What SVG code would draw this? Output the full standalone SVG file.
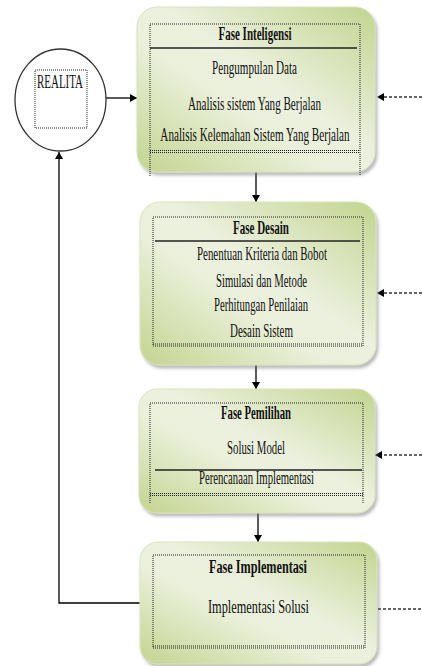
<svg xmlns="http://www.w3.org/2000/svg" width="422" height="666" viewBox="0 0 422 666">
<style>
.box{stroke:#d9e3bf;stroke-width:1;filter:url(#sh)}
.dot{fill:none;stroke:#222;stroke-width:1;stroke-dasharray:1 1}
.hl{stroke:#222;stroke-width:1.6}
.t{font-family:"Liberation Serif","Times New Roman",serif;font-size:18px;fill:#111;text-anchor:middle}
.b{font-weight:bold}
.c{fill:none;stroke:#000;stroke-width:1.3}
.d{fill:none;stroke:#333;stroke-width:1.3;stroke-dasharray:3 2}
</style>
<defs>
<linearGradient id="g" x1="1" y1="0" x2="0" y2="1">
<stop offset="0" stop-color="#c2d48f"/>
<stop offset="0.45" stop-color="#ecf1df"/>
<stop offset="0.6" stop-color="#eaf0da"/>
<stop offset="1" stop-color="#c2d48f"/>
</linearGradient>
<filter id="sh" x="-10%" y="-10%" width="125%" height="125%">
<feDropShadow dx="2" dy="3" stdDeviation="1.5" flood-color="#777" flood-opacity="0.5"/>
</filter>
<marker id="a" markerWidth="8" markerHeight="8" refX="7" refY="4" orient="auto" markerUnits="userSpaceOnUse">
<path d="M0,0 L7,4 L0,8 Z" fill="#000"/>
</marker>
</defs>

<g id="connectors">
<line class="c" x1="106" y1="98" x2="137" y2="98" marker-end="url(#a)"/>
<line class="d" x1="422" y1="97" x2="377" y2="97" marker-end="url(#a)"/>
<line class="c" x1="256" y1="172" x2="256" y2="202" marker-end="url(#a)"/>
<line class="d" x1="422" y1="293" x2="377" y2="293" marker-end="url(#a)"/>
<line class="c" x1="256" y1="365" x2="256" y2="389" marker-end="url(#a)"/>
<line class="d" x1="422" y1="455" x2="375" y2="455" marker-end="url(#a)"/>
<line class="c" x1="258" y1="513" x2="258" y2="542" marker-end="url(#a)"/>
<line class="d" x1="378" y1="609" x2="422" y2="609"/>
<polyline class="c" points="141,603 59,603 59,152" marker-end="url(#a)"/>
</g>

<g id="realita">
<ellipse cx="60.5" cy="100" rx="45.5" ry="51" fill="#fff" stroke="#333" stroke-width="1.3"/>
<rect class="dot" x="35" y="70" width="52" height="58"/>
<text class="t" x="60" y="88" font-size="20" textLength="46" lengthAdjust="spacingAndGlyphs">REALITA</text>
</g>

<g id="fase-inteligensi">
<rect class="box" x="137" y="7" width="238" height="165" rx="20" fill="url(#g)"/>
<polyline class="dot" points="150,176 150,24 360,24 360,176"/>
<line class="hl" x1="150" y1="48" x2="357" y2="48"/>
<line class="dot" x1="150" y1="150.5" x2="360" y2="150.5"/>
<line class="dot" x1="150" y1="152.5" x2="360" y2="152.5"/>
<text class="t b" x="255" y="40" textLength="73" lengthAdjust="spacingAndGlyphs">Fase Inteligensi</text>
<text class="t" x="254.5" y="74" textLength="85" lengthAdjust="spacingAndGlyphs">Pengumpulan Data</text>
<text class="t" x="254.5" y="110" textLength="133" lengthAdjust="spacingAndGlyphs">Analisis sistem Yang Berjalan</text>
<text class="t" transform="translate(255,141) scale(0.62,1)" x="0" y="0">Analisis Kelemahan  Sistem Yang Berjalan</text>
</g>

<g id="fase-desain">
<rect class="box" x="140" y="202" width="236" height="163" rx="20" fill="url(#g)"/>
<rect class="dot" x="153" y="217" width="210" height="129"/>
<line class="hl" x1="155" y1="241" x2="360" y2="241"/>
<line class="dot" x1="153" y1="344" x2="363" y2="344"/>
<text class="t b" x="261" y="234" textLength="56" lengthAdjust="spacingAndGlyphs">Fase Desain</text>
<text class="t" x="262" y="260" textLength="130" lengthAdjust="spacingAndGlyphs">Penentuan Kriteria  dan Bobot</text>
<text class="t" x="261.5" y="287" textLength="91" lengthAdjust="spacingAndGlyphs">Simulasi dan Metode</text>
<text class="t" x="261" y="311" textLength="94" lengthAdjust="spacingAndGlyphs">Perhitungan Penilaian</text>
<text class="t" x="261.5" y="337" textLength="63" lengthAdjust="spacingAndGlyphs">Desain Sistem</text>
</g>

<g id="fase-pemilihan">
<rect class="box" x="139" y="389" width="236" height="124" rx="18" fill="url(#g)"/>
<polyline class="dot" points="150,503 150,403 363,403 363,503"/>
<line class="hl" x1="155" y1="470" x2="362" y2="470"/>
<line class="dot" x1="150" y1="493.5" x2="363" y2="493.5"/>
<line class="dot" x1="150" y1="495.5" x2="363" y2="495.5"/>
<text class="t b" x="256" y="419" textLength="70" lengthAdjust="spacingAndGlyphs">Fase Pemilihan</text>
<text class="t" x="256" y="454" textLength="58" lengthAdjust="spacingAndGlyphs">Solusi Model</text>
<text class="t" x="256.5" y="484" textLength="115" lengthAdjust="spacingAndGlyphs">Perencanaan Implementasi</text>
</g>

<g id="fase-implementasi">
<rect class="box" x="140" y="542" width="237" height="122" rx="18" fill="url(#g)"/>
<rect class="dot" x="153" y="555" width="212" height="93"/>
<line class="dot" x1="153" y1="646" x2="365" y2="646"/>
<text class="t b" x="258" y="573" textLength="98" lengthAdjust="spacingAndGlyphs">Fase Implementasi</text>
<text class="t" x="258.5" y="613" textLength="101" lengthAdjust="spacingAndGlyphs">Implementasi Solusi</text>
</g>
</svg>
